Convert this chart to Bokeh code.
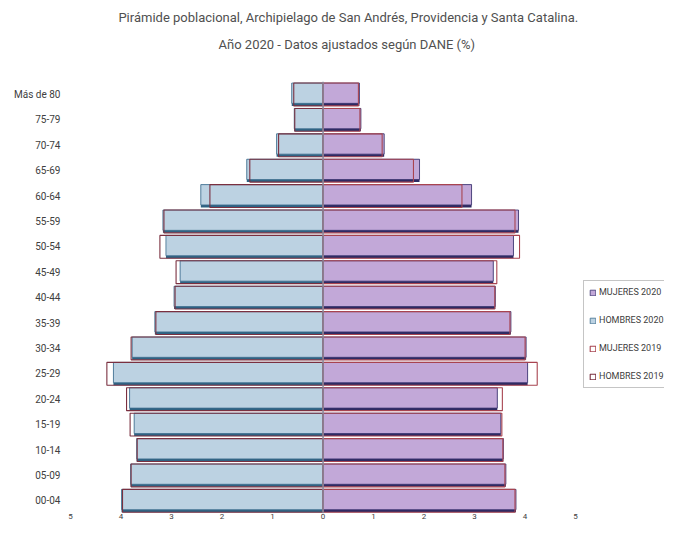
from bokeh.plotting import figure
from bokeh.models import (ColumnDataSource, FixedTicker, CustomJSTickFormatter,
                          Legend, LegendItem, Label, Range1d)
from bokeh.transform import dodge
from bokeh.embed import file_html
from bokeh.resources import INLINE

ages = ["00-04", "05-09", "10-14", "15-19", "20-24", "25-29", "30-34", "35-39", "40-44",
        "45-49", "50-54", "55-59", "60-64", "65-69", "70-74", "75-79", "Más de 80"]

hombres_2020 = [3.99, 3.81, 3.69, 3.74, 3.83, 4.15, 3.78, 3.33, 2.95, 2.83, 3.11, 3.17, 2.42, 1.51, 0.92, 0.57, 0.62]
hombres_2019 = [3.97, 3.80, 3.68, 3.82, 3.89, 4.28, 3.80, 3.31, 2.93, 2.91, 3.23, 3.15, 2.24, 1.45, 0.88, 0.56, 0.58]
mujeres_2020 = [3.82, 3.62, 3.57, 3.52, 3.45, 4.05, 4.02, 3.72, 3.41, 3.37, 3.77, 3.87, 2.94, 1.91, 1.21, 0.75, 0.72]
mujeres_2019 = [3.80, 3.60, 3.56, 3.54, 3.55, 4.24, 4.00, 3.70, 3.40, 3.44, 3.89, 3.80, 2.75, 1.79, 1.17, 0.73, 0.70]

x_ticks = [-5, -4, -3, -2, -1, 0, 1, 2, 3, 4, 5]

title_1 = "Pirámide poblacional, Archipielago de San Andrés, Providencia y Santa Catalina."
title_2 = "Año 2020 - Datos ajustados según DANE (%)"

FONT = "Roboto"

idx = list(range(len(ages)))
src = ColumnDataSource(dict(
    idx=idx,
    h20=[-v for v in hombres_2020],
    h19=[-v for v in hombres_2019],
    m20=mujeres_2020,
    m19=mujeres_2019,
))

# frame covers the whole canvas above the x axis; titles and legend live inside it
p = figure(width=664, height=524, x_range=Range1d(-5, 6.76), y_range=Range1d(-0.5, 19.7),
           output_backend="svg", toolbar_location=None,
           min_border_left=70, min_border_right=0, min_border_top=0, min_border_bottom=11)
p.title = None

# shadows
p.hbar(y="idx", right="h20", left=0, height=0.9, source=src,
       fill_color="#2f6282", line_color=None)
p.hbar(y="idx", right="m20", left=0, height=0.9, source=src,
       fill_color="#2e2a62", line_color=None)
# main bars 2020
r_h20 = p.hbar(y=dodge("idx", 0.05), right="h20", left=0, height=0.8, source=src,
               fill_color="#bcd2e2", line_color="#3f6f8f", line_width=0.8)
r_m20 = p.hbar(y=dodge("idx", 0.05), right="m20", left=0, height=0.8, source=src,
               fill_color="#c2a8d8", line_color="#3a3470", line_width=0.8)
# 2019 outlines
r_h19 = p.hbar(y="idx", right="h19", left=0, height=0.9, source=src,
               fill_color=None, line_color="#7a3040", line_width=1.1)
r_m19 = p.hbar(y="idx", right="m19", left=0, height=0.9, source=src,
               fill_color=None, line_color="#a84450", line_width=1.1)

# zero line spanning the bars only
p.segment(x0=[0], x1=[0], y0=[idx[0] - 0.5], y1=[idx[-1] + 0.5],
          line_color="#8a8a9e", line_width=1.5)

# titles (positioned in the plot's data space, above the last category)
p.add_layout(Label(x=0.5, y=19.03, text=title_1, text_align="center", text_baseline="middle",
                   text_font=FONT, text_font_size="13px", text_color="#505050"))
p.add_layout(Label(x=0.47, y=17.96, text=title_2, text_align="center", text_baseline="middle",
                   text_font=FONT, text_font_size="13px", text_color="#505050"))

p.xaxis.ticker = FixedTicker(ticks=x_ticks)
p.xaxis.formatter = CustomJSTickFormatter(code="return Math.abs(tick).toString()")
p.yaxis.ticker = FixedTicker(ticks=idx)
p.yaxis.major_label_overrides = {i: a for i, a in zip(idx, ages)}
for ax in (p.xaxis, p.yaxis):
    ax.axis_line_color = None
    ax.major_tick_line_color = None
    ax.minor_tick_line_color = None
    ax.major_tick_out = 0
    ax.major_tick_in = 0
    ax.major_label_text_font = FONT
    ax.major_label_text_color = "#404040"
p.xaxis.major_label_text_font_size = "8px"
p.xaxis.major_label_standoff = 0
p.yaxis.major_label_text_font_size = "10px"
p.yaxis.major_label_standoff = 10
p.xgrid.grid_line_color = None
p.ygrid.grid_line_color = None
p.outline_line_color = None

legend = Legend(items=[
    LegendItem(label="MUJERES 2020", renderers=[r_m20]),
    LegendItem(label="HOMBRES 2020", renderers=[r_h20]),
    LegendItem(label="MUJERES 2019", renderers=[r_m19]),
    LegendItem(label="HOMBRES 2019", renderers=[r_h19]),
], location=(513, 125))
legend.label_text_font = FONT
legend.label_text_font_size = "9px"
legend.label_text_color = "#404040"
legend.glyph_width = 7
legend.glyph_height = 7
legend.label_height = 12
legend.label_standoff = 3
legend.spacing = 16
legend.padding = 5
legend.margin = 0
legend.border_line_color = "#8c8c8c"
legend.border_line_width = 1
legend.background_fill_color = "white"
p.add_layout(legend, "center")

open("out.html", "w").write(file_html(p, INLINE))
